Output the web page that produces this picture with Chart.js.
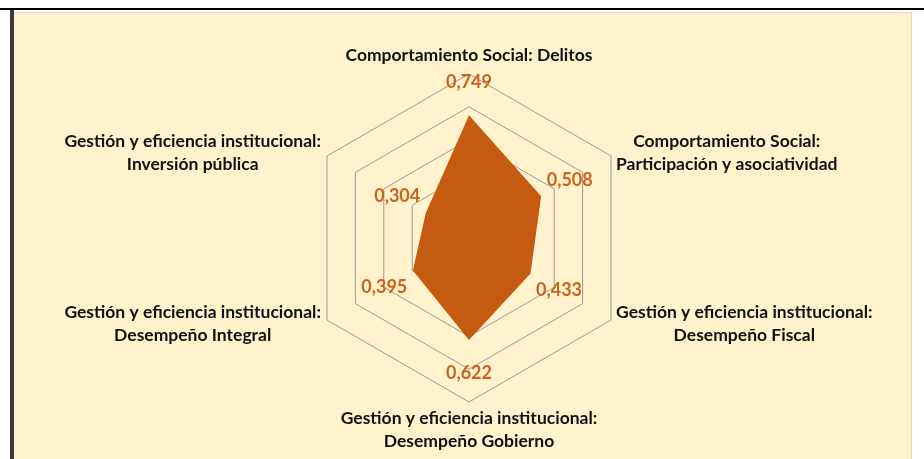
<!DOCTYPE html>
<html>
<head>
<meta charset="utf-8">
<script src="https://cdn.jsdelivr.net/npm/chart.js@4"></script>
<style>
  html, body { margin: 0; padding: 0; background: #ffffff; }
  #frame { position: relative; width: 924px; height: 459px; overflow: hidden; }
  .topline { position: absolute; left: 0; top: 8px; width: 924px; height: 2px; background: #000; }
  .leftbar { position: absolute; left: 10px; top: 10px; width: 4px; height: 449px; background: #3b3b3b; }
  .panel { position: absolute; left: 14px; top: 12px; width: 897px; height: 447px; background: #fff2cc;
           border-top: 1px solid #f3d4c4; border-right: 1px solid #f3d4c4; }
  canvas { position: absolute; left: 0; top: 0; }
</style>
</head>
<body>
<div id="frame">
  <div class="topline"></div>
  <div class="leftbar"></div>
  <div class="panel"></div>
  <canvas id="radarChart" width="924" height="459"></canvas>
</div>
<script>
// ==========================================
// DATA
// ==========================================
const categories = [
  ["Comportamiento Social: Delitos"],
  ["Comportamiento Social:", "Participación y asociatividad"],
  ["Gestión y eficiencia institucional:", "Desempeño Fiscal"],
  ["Gestión y eficiencia institucional:", "Desempeño Gobierno"],
  ["Gestión y eficiencia institucional:", "Desempeño Integral"],
  ["Gestión y eficiencia institucional:", "Inversión pública"]
];
const values = [0.749, 0.508, 0.433, 0.622, 0.395, 0.304];
const scaleMin = 0;
const scaleMax = 1;
const scaleStep = 0.2;

const fillColor = "#c55a11";
const labelColor = "#c8641e";

// ==========================================
// CUSTOM LABELS (category + value)
// ==========================================
const radarLabels = {
  id: "radarLabels",
  afterDatasetsDraw(chart) {
    const ctx = chart.ctx;
    const scale = chart.scales.r;
    const R = scale.drawingArea;

    ctx.save();

    // value labels, pushed outward from each point
    ctx.font = "bold 18px Lato";
    ctx.fillStyle = labelColor;
    ctx.textAlign = "center";
    ctx.textBaseline = "middle";
    values.forEach((v, i) => {
      const dist = scale.getDistanceFromCenterForValue(v) + 33;
      const p = scale.getPointPosition(i, dist);
      ctx.fillText(v.toFixed(3).replace(".", ","), p.x, p.y);
    });

    // category labels around the outer ring
    ctx.font = "bold 17.5px Lato";
    ctx.fillStyle = "#111111";
    const lineH = 23;
    categories.forEach((lines, i) => {
      const v = scale.getPointPosition(i, R);
      const dx = v.x - scale.xCenter;
      const dy = v.y - scale.yCenter;
      const blockW = Math.max(...lines.map(l => ctx.measureText(l).width));
      const blockH = lines.length * lineH;
      let cx, top;
      if (Math.abs(dx) < 1) {
        cx = v.x;
        top = dy < 0 ? v.y - 7 - blockH : v.y + 5;
      } else {
        cx = dx > 0 ? v.x + 5 + blockW / 2 : v.x - 6 - blockW / 2;
        top = v.y - blockH / 2 + (dy < 0 ? -3 : 4);
      }
      lines.forEach((l, k) => {
        ctx.fillText(l, cx, top + lineH * (k + 0.5));
      });
    });

    ctx.restore();
  }
};

// ==========================================
// CHART
// ==========================================
const ctx = document.getElementById("radarChart").getContext("2d");

new Chart(ctx, {
  type: "radar",
  data: {
    labels: categories,
    datasets: [{
      data: values,
      backgroundColor: fillColor,
      borderWidth: 0,
      pointRadius: 0,
      fill: true
    }]
  },
  options: {
    responsive: false,
    animation: false,
    layout: { padding: { top: 74, bottom: 57, left: 200, right: 186 } },
    plugins: {
      legend: { display: false },
      tooltip: { enabled: false }
    },
    scales: {
      r: {
        min: scaleMin,
        max: scaleMax,
        ticks: { display: false, stepSize: scaleStep },
        pointLabels: { display: false },
        angleLines: { display: false },
        grid: { color: "#9c9a93", lineWidth: 1 }
      }
    }
  },
  plugins: [radarLabels]
});
</script>
</body>
</html>
